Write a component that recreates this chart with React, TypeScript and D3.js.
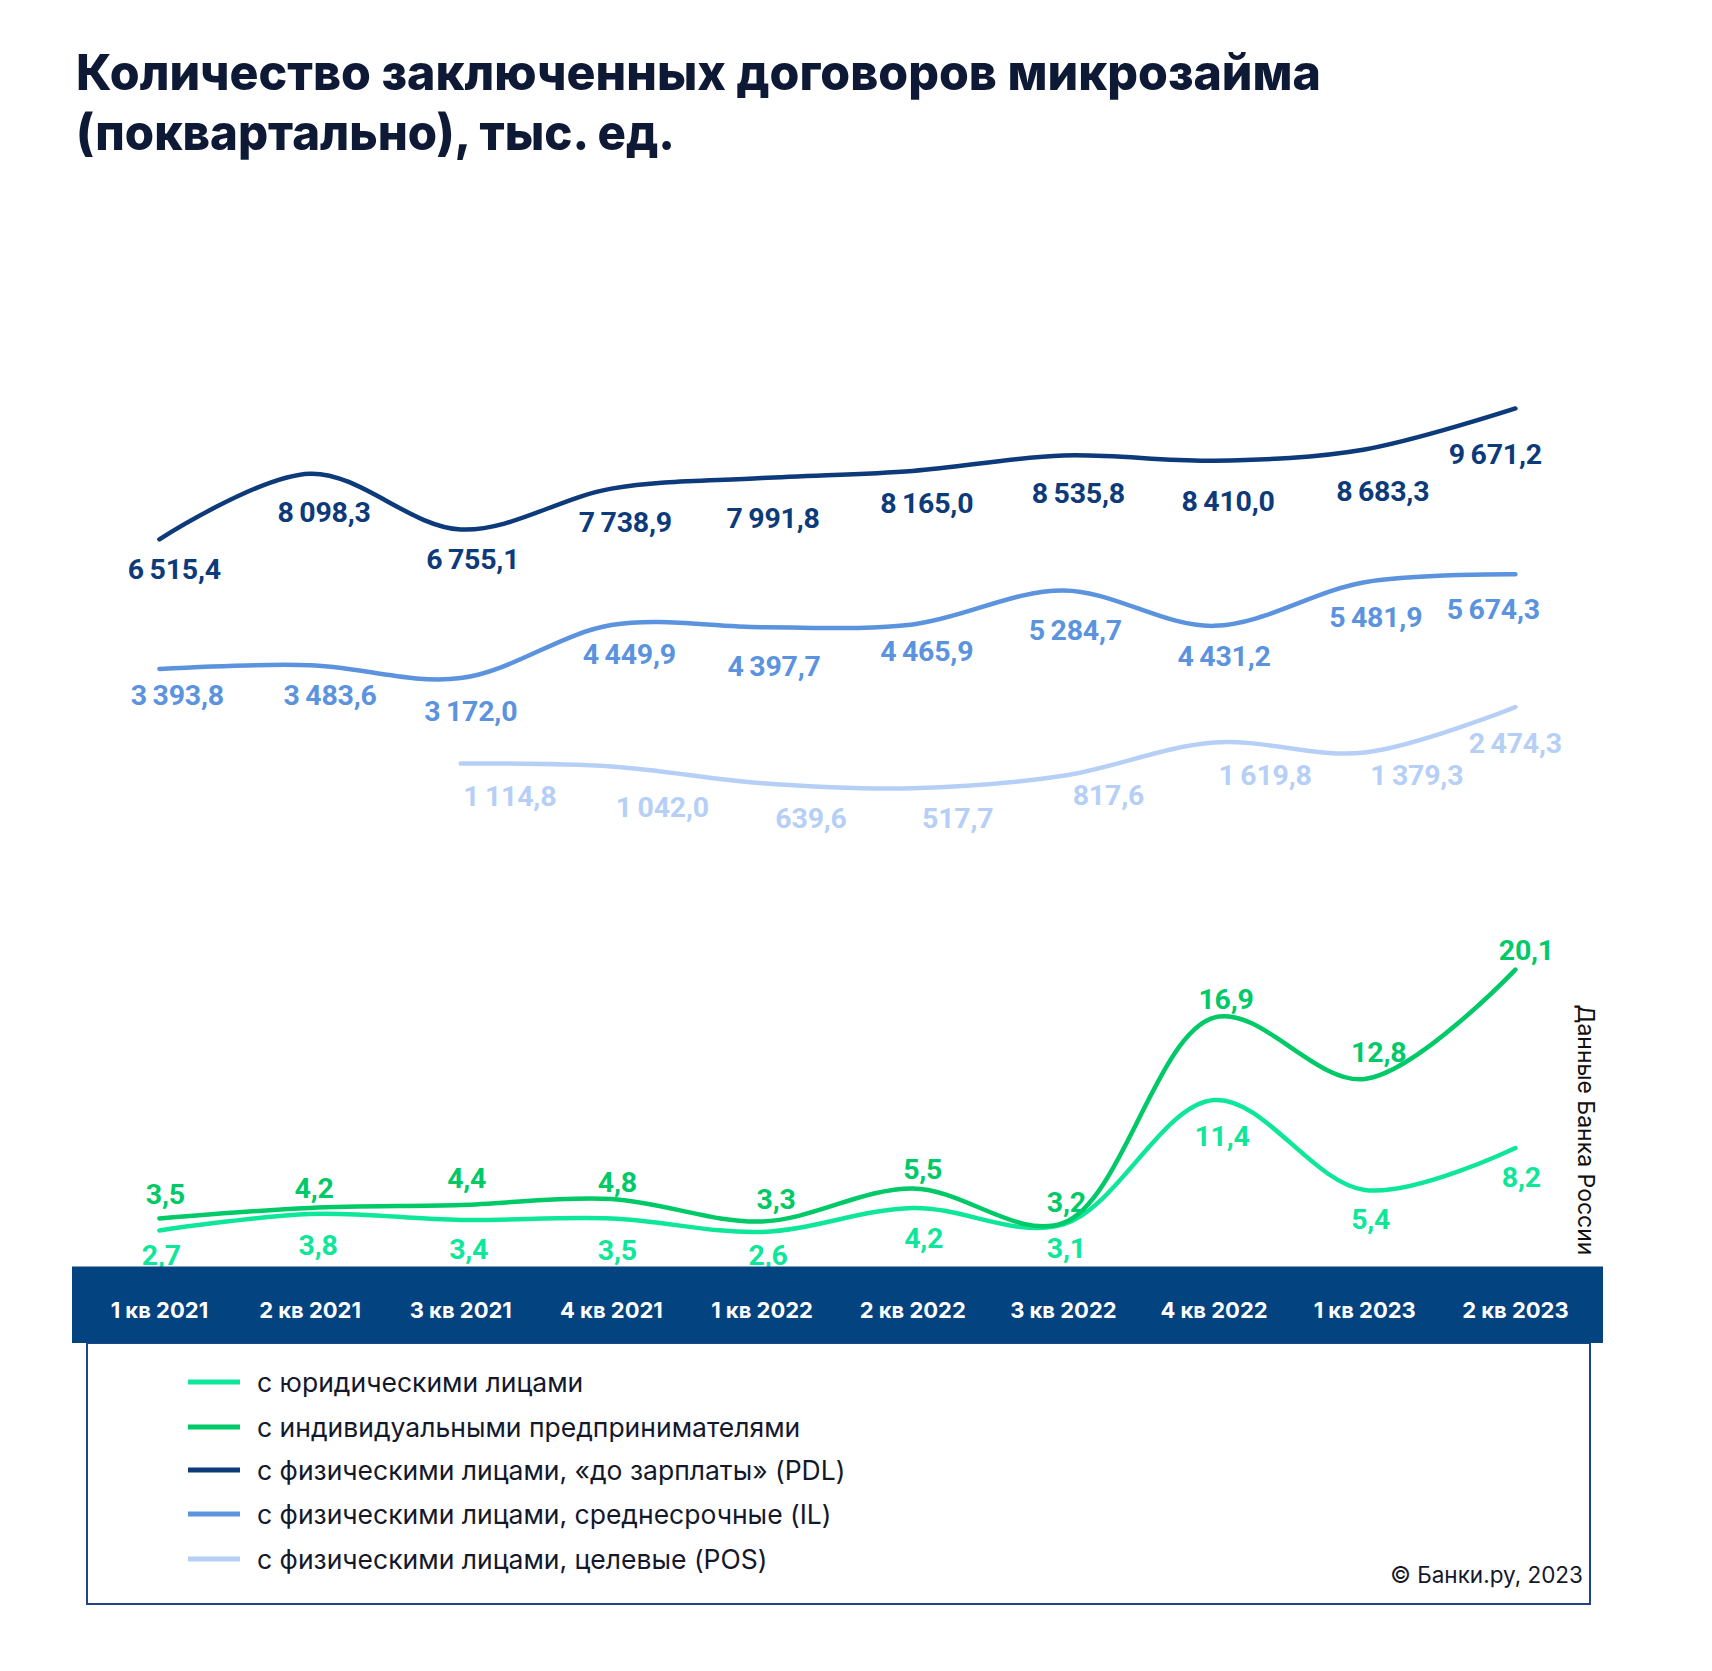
import React from "react";
import * as d3 from "d3";

const categories = ["1 кв 2021", "2 кв 2021", "3 кв 2021", "4 кв 2021", "1 кв 2022", "2 кв 2022", "3 кв 2022", "4 кв 2022", "1 кв 2023", "2 кв 2023"];
const pdlValues = [6515.4, 8098.3, 6755.1, 7738.9, 7991.8, 8165.0, 8535.8, 8410.0, 8683.3, 9671.2];
const ilValues = [3393.8, 3483.6, 3172.0, 4449.9, 4397.7, 4465.9, 5284.7, 4431.2, 5481.9, 5674.3];
const posValues: (number | null)[] = [null, null, 1114.8, 1042.0, 639.6, 517.7, 817.6, 1619.8, 1379.3, 2474.3];
const ipValues = [3.5, 4.2, 4.4, 4.8, 3.3, 5.5, 3.2, 16.9, 12.8, 20.1];
const ulValues = [2.7, 3.8, 3.4, 3.5, 2.6, 4.2, 3.1, 11.4, 5.4, 8.2];

const legendLabels = [
  "с юридическими лицами",
  "с индивидуальными предпринимателями",
  "с физическими лицами, «до зарплаты» (PDL)",
  "с физическими лицами, среднесрочные (IL)",
  "с физическими лицами, целевые (POS)",
];

// label nudges relative to the point (px)
const pdlOffsets = [[15, 30], [14, 39], [12, 30], [14, 34], [11, 40], [14, 33], [15, 38], [14, 41], [18, 42], [-20, 46]];
const ilOffsets = [[18, 27], [20, 30], [10, 33], [18, 29], [12, 39], [14, 27], [12, 40], [10, 31], [11, 35], [-22, 35]];
const posOffsets = [[0, 0], [0, 0], [49, 33], [51, 41], [49, 35], [45, 30], [45, 20], [51, 33], [52, 23], [0, 36]];
const ipOffsets = [[6, -24], [4, -19], [6, -26], [6, -16], [14, -22], [10, -19], [3, -20], [12, -18], [14, -27], [11, -19]];
const ulOffsets = [[2, 25], [8, 32], [8, 30], [6, 32], [6, 24], [11, 31], [3, 24], [8, 36], [6, 30], [6, 30]];

const C = {
  title: "#0e1a35",
  pdl: "#0c3a7a",
  il: "#5b93df",
  pos: "#b6cff6",
  ip: "#00c967",
  ul: "#0ee79a",
  band: "#03437f",
  border: "#1f4487",
};

const fmtLocale = d3.formatLocale({ decimal: ",", thousands: "\u2009", grouping: [3], currency: ["", ""] });
const fmt = fmtLocale.format(",.1f");

export default function App() {
  const W = 1712, H = 1671;
  const x = d3.scalePoint<string>().domain(categories).range([159.4, 1515.4]);
  const yTop = d3.scaleLinear().domain([0, 10000]).range([809.7, 809.7 - 414.9]);
  const yBot = d3.scaleLinear().domain([0, 20]).range([1270.9, 1270.9 - 299.8]);

  const mk = (vals: (number | null)[], y: d3.ScaleLinear<number, number>) =>
    d3.line<number | null>()
      .defined((d) => d != null)
      .x((_, i) => x(categories[i])!)
      .y((d) => y(d as number))
      .curve(d3.curveCatmullRom.alpha(0.5))(vals) || "";

  const numFont = "Roboto, 'DejaVu Sans', sans-serif";

  const labels = (vals: (number | null)[], y: d3.ScaleLinear<number, number>, offs: number[][], color: string, key: string) =>
    vals.map((v, i) =>
      v == null ? null : (
        <text
          key={key + i}
          x={x(categories[i])! + offs[i][0]}
          y={y(v) + offs[i][1]}
          textAnchor="middle"
          dominantBaseline="central"
          fill={color}
          fontFamily={numFont}
          fontWeight={700}
          fontSize={28.5}
          letterSpacing={-0.2}
        >
          {fmt(v)}
        </text>
      )
    );

  const series = [
    { vals: posValues, y: yTop, color: C.pos, offs: posOffsets, k: "pos" },
    { vals: ilValues, y: yTop, color: C.il, offs: ilOffsets, k: "il" },
    { vals: pdlValues, y: yTop, color: C.pdl, offs: pdlOffsets, k: "pdl" },
    { vals: ulValues, y: yBot, color: C.ul, offs: ulOffsets, k: "ul" },
    { vals: ipValues, y: yBot, color: C.ip, offs: ipOffsets, k: "ip" },
  ];

  const legendColors = [C.ul, C.ip, C.pdl, C.il, C.pos];
  const legendY = [1382, 1427, 1470, 1514, 1559];

  return (
    <svg width={W} height={H} viewBox={`0 0 ${W} ${H}`} style={{ display: "block", position: "absolute", left: 0, top: 0, background: "#fff" }}>
      <rect x={0} y={0} width={W} height={H} fill="#fff" />
      <text x={76} y={90} fill={C.title} fontFamily="Inter, 'Noto Sans', sans-serif" fontWeight={800} fontSize={50} textLength={1245} lengthAdjust="spacingAndGlyphs">
        Количество заключенных договоров микрозайма
      </text>
      <text x={76} y={150} fill={C.title} fontFamily="Inter, 'Noto Sans', sans-serif" fontWeight={800} fontSize={50} textLength={599} lengthAdjust="spacingAndGlyphs">
        (поквартально), тыс. ед.
      </text>

      {series.map((s) => (
        <path key={s.k} d={mk(s.vals, s.y)} fill="none" stroke={s.color} strokeWidth={4.5} strokeLinecap="round" />
      ))}
      {series.map((s) => labels(s.vals, s.y, s.offs, s.color, s.k))}

      {/* legend box */}
      <rect x={87} y={1343} width={1503} height={261} fill="none" stroke={C.border} strokeWidth={2} />
      {/* category band */}
      <rect x={72} y={1266.5} width={1531} height={76.5} fill={C.band} />
      {categories.map((c) => (
        <text key={c} x={x(c)!} y={1310} textAnchor="middle" dominantBaseline="central" fill="#fff" fontFamily="Inter, 'Noto Sans', sans-serif" fontWeight={700} fontSize={22}>
          {c}
        </text>
      ))}

      <text transform="translate(1586,1130) rotate(90)" textAnchor="middle" dominantBaseline="central" fill="#111" fontFamily="Inter, 'Noto Sans', sans-serif" fontSize={23}>
        Данные Банка России
      </text>

      {legendLabels.map((l, i) => (
        <g key={l}>
          <line x1={188} x2={240} y1={legendY[i]} y2={legendY[i]} stroke={legendColors[i]} strokeWidth={5} />
          <text x={257} y={legendY[i]} dominantBaseline="central" fill="#14182b" fontFamily="Inter, 'Noto Sans', sans-serif" fontSize={26.5}>
            {l}
          </text>
        </g>
      ))}
      <text x={1583} y={1583} textAnchor="end" fill="#14182b" fontFamily="Inter, 'Noto Sans', sans-serif" fontSize={22.5}>
        © Банки.ру, 2023
      </text>
    </svg>
  );
}
